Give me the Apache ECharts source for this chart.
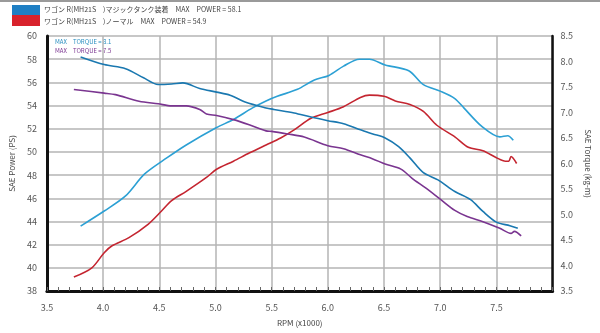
<!DOCTYPE html>
<html>
<head>
<meta charset="utf-8">
<script src="https://cdn.jsdelivr.net/npm/echarts@6/dist/echarts.min.js"></script>
<style>
  html, body { margin: 0; padding: 0; background: #fff; }
  #chart { width: 600px; height: 333px; }
</style>
</head>
<body>
<div id="chart"></div>
<script>
// 出力曲線 (PS)
var rpmPowerTank = [3.80, 4.01, 4.20, 4.37, 4.57, 4.74, 5.01, 5.16, 5.33, 5.45, 5.55, 5.73, 5.88, 6.01, 6.14, 6.28, 6.37, 6.51, 6.72, 6.85, 7.01, 7.13, 7.21, 7.37, 7.53, 7.60, 7.65];
var powerTank    = [43.6, 44.9, 46.2, 48.1, 49.5, 50.6, 52.1, 52.8, 53.8, 54.4, 54.8, 55.4, 56.2, 56.6, 57.4, 58.0, 58.0, 57.5, 57.0, 55.8, 55.2, 54.6, 53.8, 52.2, 51.3, 51.4, 51.0];
var rpmPowerNormal = [3.74, 3.90, 4.01, 4.08, 4.23, 4.40, 4.52, 4.61, 4.74, 4.92, 5.01, 5.16, 5.30, 5.45, 5.58, 5.70, 5.85, 6.00, 6.14, 6.29, 6.37, 6.50, 6.60, 6.73, 6.85, 6.97, 7.13, 7.25, 7.38, 7.50, 7.58, 7.61, 7.63, 7.68];
var powerNormal    = [39.2, 40.0, 41.3, 41.9, 42.6, 43.75, 44.9, 45.8, 46.6, 47.8, 48.5, 49.2, 49.9, 50.6, 51.2, 51.9, 52.9, 53.4, 53.9, 54.7, 54.9, 54.8, 54.4, 54.1, 53.5, 52.3, 51.3, 50.4, 50.1, 49.5, 49.2, 49.2, 49.6, 49.0];

// トルク曲線 (kg-m)
var rpmTorqueTank = [3.80, 4.01, 4.20, 4.36, 4.49, 4.61, 4.71, 4.86, 5.01, 5.13, 5.27, 5.45, 5.52, 5.70, 5.85, 6.00, 6.14, 6.29, 6.40, 6.51, 6.63, 6.73, 6.85, 6.98, 7.13, 7.27, 7.38, 7.50, 7.62, 7.69];
var torqueTank    = [8.09, 7.94, 7.86, 7.68, 7.55, 7.56, 7.58, 7.47, 7.40, 7.34, 7.20, 7.09, 7.06, 6.99, 6.91, 6.84, 6.78, 6.66, 6.58, 6.50, 6.33, 6.11, 5.82, 5.68, 5.45, 5.29, 5.06, 4.85, 4.78, 4.73];
var rpmTorqueNormal = [3.74, 4.01, 4.11, 4.32, 4.49, 4.61, 4.74, 4.86, 4.92, 5.01, 5.16, 5.30, 5.45, 5.50, 5.64, 5.79, 6.00, 6.14, 6.29, 6.40, 6.51, 6.65, 6.75, 6.87, 7.00, 7.13, 7.24, 7.38, 7.53, 7.63, 7.66, 7.72];
var torqueNormal    = [7.45, 7.38, 7.35, 7.22, 7.17, 7.13, 7.13, 7.06, 6.97, 6.94, 6.86, 6.76, 6.64, 6.63, 6.58, 6.52, 6.35, 6.29, 6.17, 6.09, 5.99, 5.89, 5.71, 5.52, 5.30, 5.08, 4.96, 4.86, 4.73, 4.63, 4.67, 4.58];

var legendLines = [
  'ワゴン R(MH21S　)マジックタンク装着　MAX　POWER = 58.1',
  'ワゴン R(MH21S　)ノーマル　MAX　POWER = 54.9'
];
var torqueNotes = ['MAX　TORQUE = 8.1', 'MAX　TORQUE = 7.5'];

function pairs(xs, ys) {
  return xs.map(function (x, i) { return [x, ys[i]]; });
}

var FONT = '"Noto Sans CJK JP", sans-serif';
var GRID = '#b4b4b4';

var chart = echarts.init(document.getElementById('chart'));

var option = {
  animation: false,
  textStyle: { fontFamily: FONT },
  grid: { left: 44, right: 46, top: 36, bottom: 42 },
  graphic: [
    { type: 'rect', left: 0, top: 0, shape: { width: 600, height: 2 }, style: { fill: '#9a9a9a' } },
    { type: 'rect', left: 12, top: 5, shape: { width: 28, height: 10 }, style: { fill: '#1f7fc4' } },
    { type: 'rect', left: 12, top: 15, shape: { width: 28, height: 11 }, style: { fill: '#d8222c' } },
    { type: 'text', left: 44, top: 6, style: { text: legendLines[0], fontSize: 7, fill: '#444', fontFamily: FONT } },
    { type: 'text', left: 44, top: 18, style: { text: legendLines[1], fontSize: 7, fill: '#444', fontFamily: FONT } },
    { type: 'text', left: 55, top: 39, style: { text: torqueNotes[0], fontSize: 6, fill: '#2a8fc0', fontFamily: FONT } },
    { type: 'text', left: 55, top: 48, style: { text: torqueNotes[1], fontSize: 6, fill: '#7a3590', fontFamily: FONT } }
  ],
  xAxis: {
    type: 'value',
    min: 3.5,
    max: 8.0,
    interval: 0.5,
    name: 'RPM (x1000)',
    nameLocation: 'middle',
    nameGap: 28,
    nameTextStyle: { fontSize: 8, color: '#444' },
    axisLine: { show: true, lineStyle: { color: '#111', width: 3 } },
    axisTick: { show: true, inside: true, length: 4, lineStyle: { color: '#666', width: 1 } },
    minorTick: { show: true, splitNumber: 5, length: 4, lineStyle: { color: '#666', width: 1 } },
    axisLabel: {
      fontSize: 9, color: '#555', margin: 12,
      formatter: function (v) { return v >= 8 ? '' : v.toFixed(1); }
    },
    splitLine: { show: true, lineStyle: { color: GRID, width: 1.5 } }
  },
  yAxis: [
    {
      type: 'value',
      min: 38,
      max: 60,
      interval: 2,
      name: 'SAE Power (PS)',
      nameLocation: 'middle',
      nameRotate: 90,
      nameGap: 28,
      nameTextStyle: { fontSize: 8, color: '#444' },
      axisLine: { show: true, lineStyle: { color: '#111', width: 3 } },
      axisTick: { show: false },
      axisLabel: { fontSize: 9, color: '#555', margin: 10 },
      splitLine: { show: true, lineStyle: { color: GRID, width: 1.5 } }
    },
    {
      type: 'value',
      position: 'right',
      min: 3.5,
      max: 8.5,
      interval: 0.5,
      name: 'SAE Torque (kg-m)',
      nameLocation: 'middle',
      nameRotate: -90,
      nameGap: 30,
      nameTextStyle: { fontSize: 8, color: '#444' },
      axisLine: { show: true, lineStyle: { color: '#111', width: 2.5 } },
      axisTick: { show: false },
      axisLabel: { fontSize: 9, color: '#555', margin: 8, formatter: function (v) { return v.toFixed(1); } },
      splitLine: { show: false }
    }
  ],
  series: [
    {
      name: 'power tank', type: 'line', yAxisIndex: 0, smooth: 0.3, symbol: 'none',
      lineStyle: { color: '#2ca0d4', width: 1.6 },
      data: pairs(rpmPowerTank, powerTank)
    },
    {
      name: 'power normal', type: 'line', yAxisIndex: 0, smooth: 0.3, symbol: 'none',
      lineStyle: { color: '#c42530', width: 1.6 },
      data: pairs(rpmPowerNormal, powerNormal)
    },
    {
      name: 'torque tank', type: 'line', yAxisIndex: 1, smooth: 0.3, symbol: 'none',
      lineStyle: { color: '#1a78b0', width: 1.6 },
      data: pairs(rpmTorqueTank, torqueTank)
    },
    {
      name: 'torque normal', type: 'line', yAxisIndex: 1, smooth: 0.3, symbol: 'none',
      lineStyle: { color: '#7a3590', width: 1.6 },
      data: pairs(rpmTorqueNormal, torqueNormal)
    }
  ]
};

chart.setOption(option);
</script>
</body>
</html>
